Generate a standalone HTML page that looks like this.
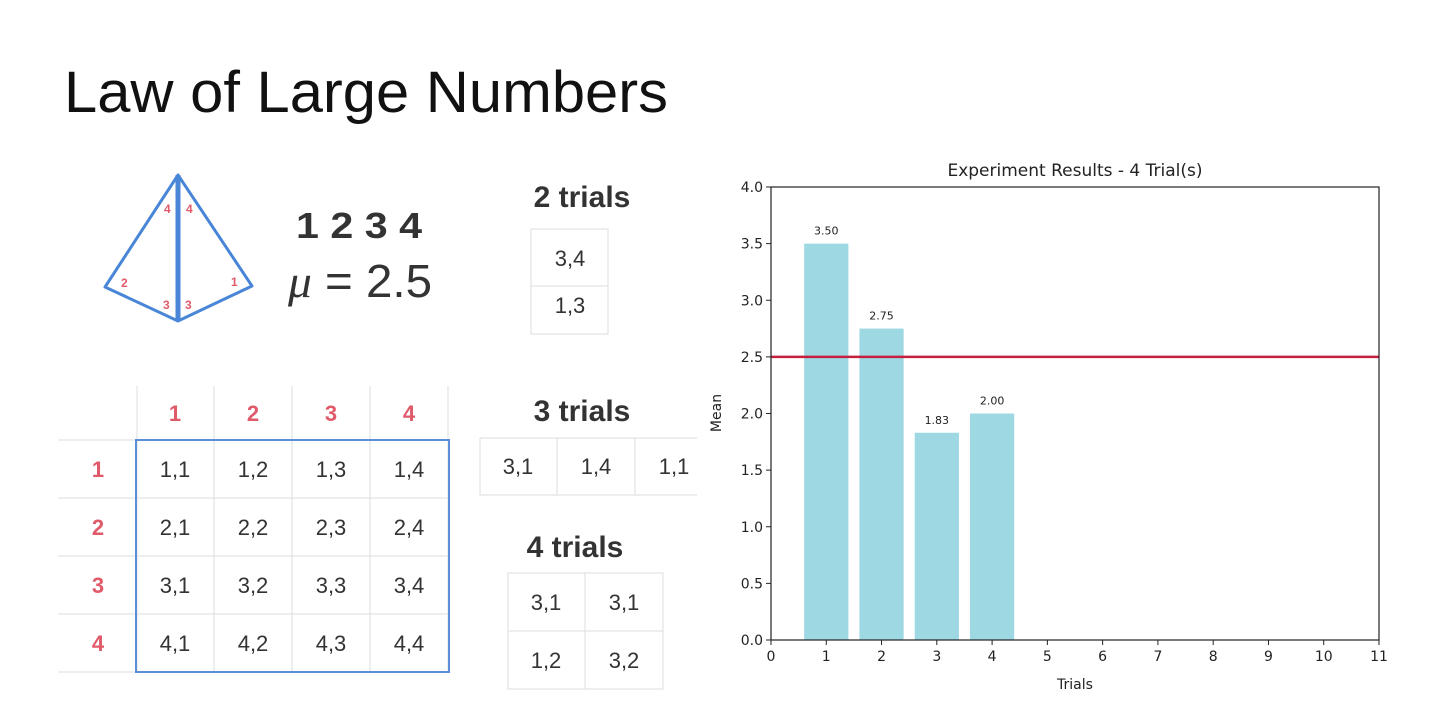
<!DOCTYPE html>
<html><head><meta charset="utf-8"><style>
body{margin:0;background:#fff;width:1440px;height:711px;overflow:hidden;font-family:"Liberation Sans",sans-serif}
svg{display:block}
</style></head><body>
<svg width="1440" height="711">
<text x="64" y="112" font-size="58" textLength="604" lengthAdjust="spacingAndGlyphs" fill="#111">Law of Large Numbers</text>
<g stroke="#4a86d8" fill="none" stroke-linejoin="round">
<path d="M178 175 L105 287 L178 321 L252 286 Z" stroke-width="3"/>
<line x1="178" y1="175" x2="178" y2="321" stroke-width="5"/>
</g>
<g font-size="12" font-weight="bold" fill="#e05a6a">
<text x="164" y="213">4</text><text x="186" y="213">4</text><text x="121" y="287">2</text><text x="231" y="286">1</text><text x="163" y="309">3</text><text x="185" y="309">3</text>
</g>
<text x="296" y="238" font-size="36" font-weight="bold" fill="#333" textLength="126" lengthAdjust="spacingAndGlyphs">1 2 3 4</text>
<text x="288" y="297" font-size="46" fill="#333" textLength="144" lengthAdjust="spacingAndGlyphs"><tspan font-family="Liberation Serif" font-style="italic">μ</tspan> = 2.5</text>

<g stroke="#ddd" stroke-width="1" fill="none">
<line x1="58" y1="440" x2="450" y2="440"/><line x1="58" y1="498" x2="450" y2="498"/><line x1="58" y1="556" x2="450" y2="556"/><line x1="58" y1="614" x2="450" y2="614"/><line x1="58" y1="672" x2="450" y2="672"/>
<line x1="137" y1="386" x2="137" y2="672"/><line x1="214" y1="386" x2="214" y2="672"/><line x1="292" y1="386" x2="292" y2="672"/><line x1="370" y1="386" x2="370" y2="672"/><line x1="448" y1="386" x2="448" y2="672"/>
</g>
<rect x="136" y="440" width="313" height="232" fill="none" stroke="#5b8fd8" stroke-width="2"/>
<g font-size="22" font-weight="bold" fill="#e05a6a" text-anchor="middle">
<text x="175" y="421">1</text><text x="253" y="421">2</text><text x="331" y="421">3</text><text x="409" y="421">4</text>
<text x="98" y="477">1</text><text x="98" y="535">2</text><text x="98" y="593">3</text><text x="98" y="651">4</text>
</g>
<g font-size="22" fill="#333" text-anchor="middle">
<text x="175" y="477">1,1</text><text x="253" y="477">1,2</text><text x="331" y="477">1,3</text><text x="409" y="477">1,4</text>
<text x="175" y="535">2,1</text><text x="253" y="535">2,2</text><text x="331" y="535">2,3</text><text x="409" y="535">2,4</text>
<text x="175" y="593">3,1</text><text x="253" y="593">3,2</text><text x="331" y="593">3,3</text><text x="409" y="593">3,4</text>
<text x="175" y="651">4,1</text><text x="253" y="651">4,2</text><text x="331" y="651">4,3</text><text x="409" y="651">4,4</text>
</g>

<g>
<text x="582" y="207" font-size="30" font-weight="bold" fill="#333" text-anchor="middle">2 trials</text>
<rect x="531" y="229" width="77" height="105" fill="none" stroke="#ddd"/><line x1="531" y1="286" x2="608" y2="286" stroke="#ddd"/>
<text x="570" y="266" font-size="22" fill="#333" text-anchor="middle">3,4</text><text x="570" y="313" font-size="22" fill="#333" text-anchor="middle">1,3</text>
</g>
<g>
<text x="582" y="421" font-size="30" font-weight="bold" fill="#333" text-anchor="middle">3 trials</text>
<path d="M697 438 H480 V495 H697 M557 438 V495 M635 438 V495" fill="none" stroke="#ddd"/>
<text x="518" y="474" font-size="22" fill="#333" text-anchor="middle">3,1</text><text x="596" y="474" font-size="22" fill="#333" text-anchor="middle">1,4</text><text x="674" y="474" font-size="22" fill="#333" text-anchor="middle">1,1</text>
</g>
<g>
<text x="575" y="557" font-size="30" font-weight="bold" fill="#333" text-anchor="middle">4 trials</text>
<rect x="508" y="573" width="155" height="116" fill="none" stroke="#ddd"/><line x1="508" y1="631" x2="663" y2="631" stroke="#ddd"/><line x1="585" y1="573" x2="585" y2="689" stroke="#ddd"/>
<text x="546" y="610" font-size="22" fill="#333" text-anchor="middle">3,1</text><text x="624" y="610" font-size="22" fill="#333" text-anchor="middle">3,1</text>
<text x="546" y="668" font-size="22" fill="#333" text-anchor="middle">1,2</text><text x="624" y="668" font-size="22" fill="#333" text-anchor="middle">3,2</text>
</g>

<g id="chart"></g>
</svg>
<script>
const categories=[1,2,3,4];
const means=[3.50,2.75,1.83,2.00];
const meanLabels=["3.50","2.75","1.83","2.00"];
const xTicks=[0,1,2,3,4,5,6,7,8,9,10,11];
const yTicks=["0.0","0.5","1.0","1.5","2.0","2.5","3.0","3.5","4.0"];
const trueMean=2.5;

const NS="http://www.w3.org/2000/svg";
const L=771,R=1379,T=187,B=640;
const xs=v=>L+(v-0)/11*(R-L);
const ys=v=>B-(v/4)*(B-T);
const g=document.getElementById('chart');
function mk(tag,attrs,parent){const e=document.createElementNS(NS,tag);for(const k in attrs)e.setAttribute(k,attrs[k]);(parent||g).appendChild(e);return e;}
categories.forEach((c,i)=>{
  const r=mk('rect',{x:xs(c-0.4),y:ys(means[i]),width:xs(c+0.4)-xs(c-0.4),height:ys(0)-ys(means[i]),fill:'#9ed8e3'});
  
  
  const t=mk('text',{x:xs(c),y:ys(means[i])-9,'font-size':11,'text-anchor':'middle',fill:'#222','font-family':'DejaVu Sans'});
  t.textContent=meanLabels[i];
  
  
});
const ml=mk('line',{x1:L,x2:R,y1:ys(trueMean),y2:ys(trueMean),stroke:'#c4203e','stroke-width':2.5});


const fr=mk('rect',{x:L,y:T,width:R-L,height:B-T,fill:'none',stroke:'#222','stroke-width':1.2});


xTicks.forEach(v=>{
  mk('line',{x1:xs(v),x2:xs(v),y1:B,y2:B+5,stroke:'#222'});
  const t=mk('text',{x:xs(v),y:B+21,'font-size':14,'text-anchor':'middle',fill:'#222','font-family':'DejaVu Sans'});
  t.textContent=v;
  
  
});
yTicks.forEach(s=>{
  const v=parseFloat(s);
  mk('line',{x1:L-5,x2:L,y1:ys(v),y2:ys(v),stroke:'#222'});
  const t=mk('text',{x:L-8,y:ys(v)+5,'font-size':14,'text-anchor':'end',fill:'#222','font-family':'DejaVu Sans'});
  t.textContent=s;
  
  
});
const tt=mk('text',{x:(L+R)/2,y:176,'font-size':17,'text-anchor':'middle',fill:'#222','font-family':'DejaVu Sans'});
tt.textContent='Experiment Results - 4 Trial(s)';


const xt=mk('text',{x:(L+R)/2,y:689,'font-size':14,'text-anchor':'middle',fill:'#222','font-family':'DejaVu Sans'});
xt.textContent='Trials';


const yt=mk('text',{x:0,y:0,'font-size':14,'text-anchor':'middle',fill:'#222','font-family':'DejaVu Sans',transform:'translate(721,413) rotate(-90)'});
yt.textContent='Mean';


</script>
</body></html>
